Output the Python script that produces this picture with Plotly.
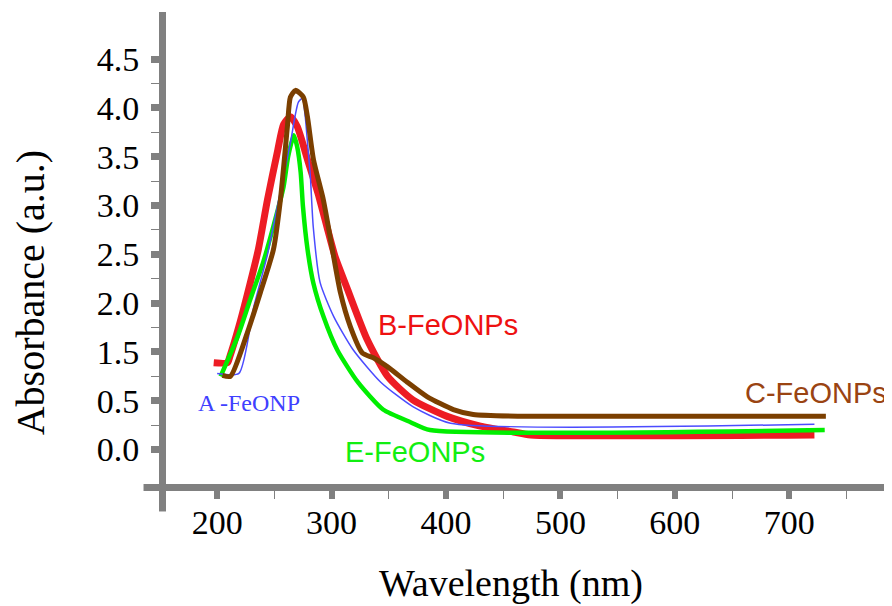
import plotly.graph_objects as go

# ---- data (y values are in axis position units; the printed tick labels skip "1.0") ----
wl_B = [197, 209, 211, 219, 229, 236, 244, 253, 258, 264, 270, 279, 288, 296, 303, 314, 331, 349, 371, 401, 430, 459, 474, 722]
ab_B = [0.89, 0.89, 0.95, 1.26, 1.71, 2.05, 2.56, 3.07, 3.33, 3.41, 3.31, 2.97, 2.63, 2.28, 1.98, 1.64, 1.13, 0.75, 0.51, 0.34, 0.24, 0.18, 0.15, 0.15]

wl_E = [203, 218, 229, 240, 249, 258, 262, 267, 270, 273, 275, 279, 284, 293, 305, 323, 345, 369, 386, 731]
ab_E = [0.75, 1.16, 1.54, 1.91, 2.28, 2.69, 3.00, 3.22, 3.10, 2.84, 2.49, 2.05, 1.71, 1.36, 1.02, 0.69, 0.41, 0.28, 0.20, 0.20]

wl_A = [200, 219, 232, 244, 255, 264, 268, 271, 274.5, 277, 279, 281.5, 284, 290, 302, 319, 343, 371, 404, 722]
ab_A = [0.78, 0.78, 1.46, 2.00, 2.63, 3.14, 3.41, 3.56, 3.60, 3.41, 3.14, 2.79, 2.28, 1.71, 1.36, 1.02, 0.69, 0.44, 0.27, 0.26]

wl_C = [204.6, 211.6, 226.5, 237.8, 249.2, 255.3, 261.4, 264, 268.4, 275.4, 278.9, 284.2, 292.8, 300.7, 307.7, 316.4, 326.9, 336.5, 348.7, 366.2, 383.7, 406.4, 423.8, 473.6, 732]
ab_C = [0.76, 0.75, 1.20, 1.61, 2.05, 2.56, 3.31, 3.61, 3.68, 3.61, 3.41, 2.97, 2.56, 2.05, 1.61, 1.26, 0.99, 0.94, 0.85, 0.69, 0.54, 0.41, 0.36, 0.34, 0.34]

x_ticks = [200, 300, 400, 500, 600, 700]
x_minor = [250, 350, 450, 550, 650, 750]
y_tickpos = [0.0, 0.5, 1.0, 1.5, 2.0, 2.5, 3.0, 3.5, 4.0]
y_ticklabels = ["0.0", "0.5", "1.5", "2.0", "2.5", "3.0", "3.5", "4.0", "4.5"]
y_minor = [0.25, 0.75, 1.25, 1.75, 2.25, 2.75, 3.25, 3.75]

# ---- layout geometry (page body has an 8px margin, compensate) ----
W, H = 892, 606
OFF = 8
L0, T0 = 165.5, 12            # plot-area left/top in screen px
pw, ph = 722.5, 472.5         # plot-area size
ml, mt = L0 - OFF, T0 - OFF
mr, mb = W - ml - pw, H - mt - ph
GRAY = "#808080"


def pxx(px):
    return (px - L0) / pw


def pxy(py):
    return (T0 + ph - py) / ph


def line(color, width):
    return dict(color=color, width=width, shape="spline", smoothing=0.6)


fig = go.Figure()
fig.add_trace(go.Scatter(x=wl_B, y=ab_B, mode="lines", line=line("#ed1c24", 7)))
fig.add_trace(go.Scatter(x=wl_E, y=ab_E, mode="lines", line=line("#00ee00", 4.5)))
fig.add_trace(go.Scatter(x=wl_A, y=ab_A, mode="lines", line=line("#4b4bff", 1.5)))
fig.add_trace(go.Scatter(x=wl_C, y=ab_C, mode="lines", line=line("#7b3f00", 5)))

tickfont = dict(family="Liberation Serif", size=34, color="black")
fig.update_layout(
    width=W, height=H,
    margin=dict(l=ml, r=mr, t=mt, b=mb, pad=0),
    paper_bgcolor="white", plot_bgcolor="white",
    showlegend=False,
    xaxis=dict(range=[155.3, 786.3], showline=True, linewidth=7, linecolor=GRAY,
               showgrid=False, zeroline=False, ticks="outside", tickmode="array",
               tickvals=x_ticks, ticklen=8, tickwidth=6, tickcolor=GRAY,
               tickfont=tickfont, ticklabelstandoff=-6,
               minor=dict(tickmode="array", tickvals=x_minor, ticks="outside",
                          ticklen=8, tickwidth=1, tickcolor=GRAY, showgrid=False)),
    yaxis=dict(range=[-0.353, 4.483], showline=True, linewidth=7, linecolor=GRAY,
               showgrid=False, zeroline=False, ticks="outside", tickmode="array",
               tickvals=y_tickpos, ticktext=y_ticklabels, ticklen=8, tickwidth=7,
               tickcolor=GRAY, tickfont=tickfont, ticklabelstandoff=5,
               minor=dict(tickmode="array", tickvals=y_minor, ticks="outside",
                          ticklen=8, tickwidth=1, tickcolor=GRAY, showgrid=False)),
)

# axis line extensions (x axis past the y axis, y axis below the x axis)
fig.add_shape(type="line", xref="paper", yref="paper",
              x0=pxx(143), x1=pxx(166), y0=pxy(488), y1=pxy(488),
              line=dict(color=GRAY, width=7))
fig.add_shape(type="line", xref="paper", yref="paper",
              x0=pxx(162), x1=pxx(162), y0=pxy(484), y1=pxy(512),
              line=dict(color=GRAY, width=7))

# axis titles
fig.add_annotation(text="Wavelength (nm)", xref="paper", yref="paper",
                   x=pxx(511), y=pxy(584), xanchor="center", yanchor="middle",
                   showarrow=False,
                   font=dict(family="Liberation Serif", size=38, color="black"))
fig.add_annotation(text="Absorbance (a.u.)", xref="paper", yref="paper",
                   x=pxx(30), y=pxy(293), xanchor="center", yanchor="middle",
                   showarrow=False, textangle=-90,
                   font=dict(family="Liberation Serif", size=40, color="black"))

# series labels
sans = "Liberation Sans"
fig.add_annotation(text="B-FeONPs", x=401.6, y=1.28, showarrow=False,
                   xanchor="center", yanchor="middle",
                   font=dict(family=sans, size=29, color="#ee1111"))
fig.add_annotation(text="A -FeONP", x=228.2, y=0.48, showarrow=False,
                   xanchor="center", yanchor="middle",
                   font=dict(family="Liberation Serif", size=24, color="#4040ff"))
fig.add_annotation(text="E-FeONPs", x=373.2, y=-0.02, showarrow=False,
                   xanchor="center", yanchor="middle",
                   font=dict(family=sans, size=29, color="#11ee11"))
fig.add_annotation(text="C-FeONPs", x=723.8, y=0.58, showarrow=False,
                   xanchor="center", yanchor="middle",
                   font=dict(family=sans, size=29, color="#9a4412"))

fig.write_html("out.html")
